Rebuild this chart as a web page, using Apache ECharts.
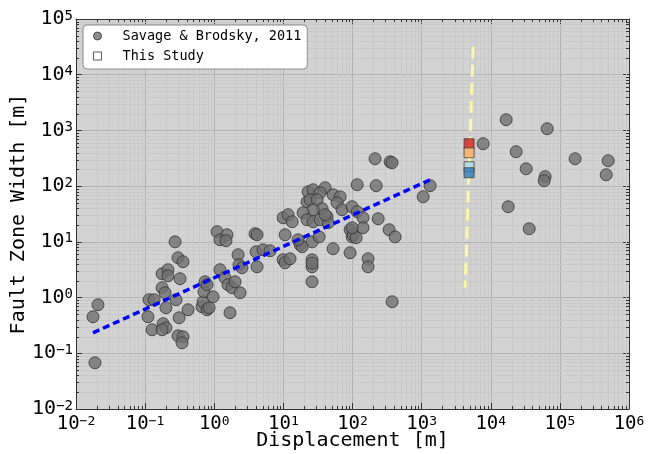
<!DOCTYPE html>
<html>
<head>
<meta charset="utf-8">
<script src="https://cdn.jsdelivr.net/npm/echarts@6/dist/echarts.min.js"></script>
<style>
  html, body { margin: 0; padding: 0; background: #fff; }
  #chart { width: 648px; height: 454px; }
</style>
</head>
<body>
<div id="chart"></div>
<script>
// Savage & Brodsky (2011) compilation: displacement [m] vs fault zone width [m]
const savageX = [
  0.0188, 0.0176, 0.0208, 0.114, 0.135, 0.110, 0.126, 0.176, 0.214, 0.214,
  0.176, 0.194, 0.200, 0.182, 0.200, 0.176, 0.271, 0.299, 0.353, 0.320,
  0.280, 0.310, 0.299, 0.353, 0.342, 0.418, 0.665, 0.689, 0.711, 0.736,
  0.787, 0.787, 0.841, 0.962, 1.10, 1.21, 1.53, 1.48, 1.21, 1.43,
  1.58, 1.81, 1.69, 2.0, 2.21, 2.28, 2.52, 2.36, 3.89, 4.16,
  4.03, 4.16, 5.08, 6.42, 10.6, 9.91, 10.6, 12.5, 26.0, 26.0,
  26.0, 26.0, 26.0, 17.5, 18.7, 9.91, 11.7, 13.4, 16.3, 32.9,
  52.4, 92.3, 92.3, 98.7, 102, 113, 117, 22.8, 26.9, 40.1,
  34.0, 52.4, 66.2, 59.8, 70.7, 22.0, 24.3, 30.8, 36.3, 26.9,
  19.3, 22.0, 26.9, 34.0, 42.9, 44.4, 40.1, 98.7, 117, 212,
  350, 374, 220, 1327, 1052, 235, 142, 142, 339, 413,
  168, 168, 374, 98.7, 16700, 65500, 7760, 23300, 166000, 500000,
  32500, 61200, 59300, 468000, 17900, 36000
];
const savageY = [
  0.0675, 0.452, 0.743, 0.914, 0.914, 0.452, 0.264, 2.67, 3.16, 2.46,
  1.50, 1.22, 0.656, 0.339, 0.287, 0.264, 10.0, 5.18, 4.40, 2.18,
  0.914, 0.434, 0.206, 0.198, 0.154, 0.604, 0.684, 0.841, 1.27, 1.92,
  1.70, 0.604, 0.656, 1.03, 15.2, 10.9, 13.4, 10.5, 3.16, 2.27,
  1.70, 1.50, 0.533, 1.92, 5.87, 3.88, 3.43, 1.22, 14.0, 13.4,
  6.64, 3.57, 7.21, 6.92, 13.4, 4.77, 4.22, 4.97, 1.92, 3.57,
  4.77, 4.15, 10.0, 8.87, 8.17, 27.1, 30.7, 23.0, 10.9, 12.3,
  7.52, 6.37, 16.5, 12.3, 13.4, 11.9, 106, 79.3, 86.1, 93.6,
  76.2, 70.1, 64.5, 50.4, 37.7, 52.5, 57.0, 57.0, 39.3, 37.7,
  33.3, 24.9, 23.0, 24.9, 28.2, 22.0, 30.7, 42.7, 34.7, 310,
  274, 263, 102, 102, 64.5, 26.0, 27.1, 17.9, 16.5, 12.3,
  4.97, 3.57, 0.841, 17.9, 1556, 1074, 577, 415, 310, 286,
  205, 148, 125, 160, 42.7, 17.2
];

// This study: four estimates at the same displacement
const studyX = [4860, 4860, 4860, 4860];
const studyY = [577, 398, 223, 174];
const studyColors = ['#d7191c', '#fdae61', '#abd9e9', '#2c7bb6'];

// Power-law fit through the compilation
const trendX = [0.0176, 1327];
const trendY = [0.233, 130];

// Displacement bound (near-vertical dashed line)
const boundX = [5560, 4265];
const boundY = [31800, 1.5];

// Axis ranges and tick labels (exponents of 10)
const xRange = [1e-2, 1e6];
const yRange = [1e-2, 1e5];
const xTickExp = ['\u22122', '\u22121', '0', '1', '2', '3', '4', '5', '6'];
const yTickExp = ['\u22122', '\u22121', '0', '1', '2', '3', '4', '5'];

const FONT = 'DejaVu Sans Mono';
const FRAME = '#333333';

function minorValues(lo, hi) {
  const out = [];
  for (let e = lo; e < hi; e++) {
    for (let m = 2; m <= 9; m++) out.push(m * Math.pow(10, e));
  }
  return out;
}
const xMinor = minorValues(-2, 6);
const yMinor = minorValues(-2, 5);

function snap(v) { return Math.round(v) + 0.5; }

function expLabel(list, v) {
  const e = Math.round(Math.log10(v));
  return '{b|10}{s|' + list[e + 2] + '}';
}

const chart = echarts.init(document.getElementById('chart'), null, { renderer: 'canvas' });

const axisCommon = {
  type: 'log',
  logBase: 10,
  axisLine: { show: true, lineStyle: { color: FRAME, width: 1 } },
  axisTick: { show: true, inside: true, length: 6, lineStyle: { color: FRAME, width: 1 } },
  minorTick: { show: false },
  splitLine: { show: false }
};

const option = {
  animation: false,
  backgroundColor: '#ffffff',
  textStyle: { fontFamily: FONT },
  grid: {
    left: 76, right: 19, top: 19, bottom: 45,
    containLabel: false,
    outerBoundsMode: 'none',
    show: true, backgroundColor: '#d3d3d3', borderWidth: 0
  },
  legend: {
    orient: 'vertical',
    left: 83, top: 25,
    padding: [4, 6, 6, 10],
    itemGap: 6,
    itemWidth: 16, itemHeight: 8,
    backgroundColor: '#ffffff',
    borderColor: '#8c8c8c', borderWidth: 1, borderRadius: 4,
    textStyle: { fontFamily: FONT, fontSize: 13.5, color: '#000', lineHeight: 14, padding: [0, 0, 0, 12] },
    data: [
      { name: 'Savage & Brodsky, 2011', icon: 'circle',
        itemStyle: { color: '#707070', borderColor: '#333', borderWidth: 1 } },
      { name: 'This Study', icon: 'path://M0,0h10v10h-10z',
        itemStyle: { color: '#ffffff', borderColor: '#333', borderWidth: 1 } }
    ]
  },
  xAxis: [
    Object.assign({}, axisCommon, {
      position: 'bottom',
      min: xRange[0], max: xRange[1],
      name: 'Displacement [m]',
      nameLocation: 'middle', nameGap: 22,
      nameMoveOverlap: false,
      nameTextStyle: { fontFamily: FONT, fontSize: 20, color: '#000' },
      axisLabel: {
        margin: 6,
        color: '#000',
        formatter: v => expLabel(xTickExp, v),
        rich: {
          b: { fontFamily: FONT, fontSize: 19, color: '#000' },
          s: { fontFamily: FONT, fontSize: 13, color: '#000', verticalAlign: 'top' }
        }
      },
      splitLine: { show: true, lineStyle: { color: '#b0b0b0', width: 1 } }
    }),
    Object.assign({}, axisCommon, {
      position: 'top',
      min: xRange[0], max: xRange[1],
      axisLabel: { show: false }
    })
  ],
  yAxis: [
    Object.assign({}, axisCommon, {
      position: 'left',
      min: yRange[0], max: yRange[1],
      name: 'Fault Zone Width [m]',
      nameLocation: 'middle', nameGap: 47,
      nameMoveOverlap: false,
      nameTextStyle: { fontFamily: FONT, fontSize: 20, color: '#000' },
      axisLabel: {
        margin: 3,
        color: '#000',
        formatter: v => expLabel(yTickExp, v),
        rich: {
          b: { fontFamily: FONT, fontSize: 20, color: '#000' },
          s: { fontFamily: FONT, fontSize: 14, color: '#000', verticalAlign: 'top' }
        }
      },
      splitLine: { show: true, lineStyle: { color: '#b0b0b0', width: 1 } }
    }),
    Object.assign({}, axisCommon, {
      position: 'right',
      min: yRange[0], max: yRange[1],
      axisLabel: { show: false }
    })
  ],
  series: [
    {
      // minor grid lines and minor ticks along x
      type: 'custom',
      xAxisIndex: 0, yAxisIndex: 0,
      silent: true, z: 1,
      data: xMinor.map(v => [v, 1]),
      renderItem: (params, api) => {
        const v = api.value(0);
        const b = api.coord([v, yRange[0]]);
        const t = api.coord([v, yRange[1]]);
        const x = snap(b[0]);
        return {
          type: 'group',
          children: [
            { type: 'line', shape: { x1: x, y1: t[1], x2: x, y2: b[1] },
              style: { stroke: '#c8c8c8', lineWidth: 1 } },
            { type: 'line', shape: { x1: x, y1: b[1], x2: x, y2: b[1] - 3 },
              style: { stroke: FRAME, lineWidth: 1 } },
            { type: 'line', shape: { x1: x, y1: t[1], x2: x, y2: t[1] + 3 },
              style: { stroke: FRAME, lineWidth: 1 } }
          ]
        };
      }
    },
    {
      // minor grid lines and minor ticks along y
      type: 'custom',
      xAxisIndex: 0, yAxisIndex: 0,
      silent: true, z: 1,
      data: yMinor.map(v => [1, v]),
      renderItem: (params, api) => {
        const v = api.value(1);
        const l = api.coord([xRange[0], v]);
        const r = api.coord([xRange[1], v]);
        const y = snap(l[1]);
        return {
          type: 'group',
          children: [
            { type: 'line', shape: { x1: l[0], y1: y, x2: r[0], y2: y },
              style: { stroke: '#c8c8c8', lineWidth: 1 } },
            { type: 'line', shape: { x1: l[0], y1: y, x2: l[0] + 3, y2: y },
              style: { stroke: FRAME, lineWidth: 1 } },
            { type: 'line', shape: { x1: r[0], y1: y, x2: r[0] - 3, y2: y },
              style: { stroke: FRAME, lineWidth: 1 } }
          ]
        };
      }
    },
    {
      name: 'Savage & Brodsky, 2011',
      type: 'scatter',
      z: 3,
      symbol: 'circle',
      symbolSize: 12,
      itemStyle: { color: '#707070', borderColor: '#333333', borderWidth: 1 },
      data: savageX.map((x, i) => [x, savageY[i]])
    },
    {
      name: 'fit',
      type: 'line',
      z: 4,
      symbol: 'none',
      silent: true,
      lineStyle: { color: '#0000ff', width: 3.5, type: [7, 4] },
      data: trendX.map((x, i) => [x, trendY[i]])
    },
    {
      name: 'bound',
      type: 'line',
      z: 4,
      symbol: 'none',
      silent: true,
      lineStyle: { color: '#fbf8a8', width: 3, type: [12, 6] },
      data: boundX.map((x, i) => [x, boundY[i]])
    },
    {
      name: 'This Study',
      type: 'scatter',
      z: 5,
      symbol: 'rect',
      symbolSize: 10,
      itemStyle: { borderColor: '#444444', borderWidth: 1 },
      data: studyX.map((x, i) => ({ value: [x, studyY[i]], itemStyle: { color: studyColors[i] } }))
    }
  ]
};

chart.setOption(option);
</script>
</body>
</html>
